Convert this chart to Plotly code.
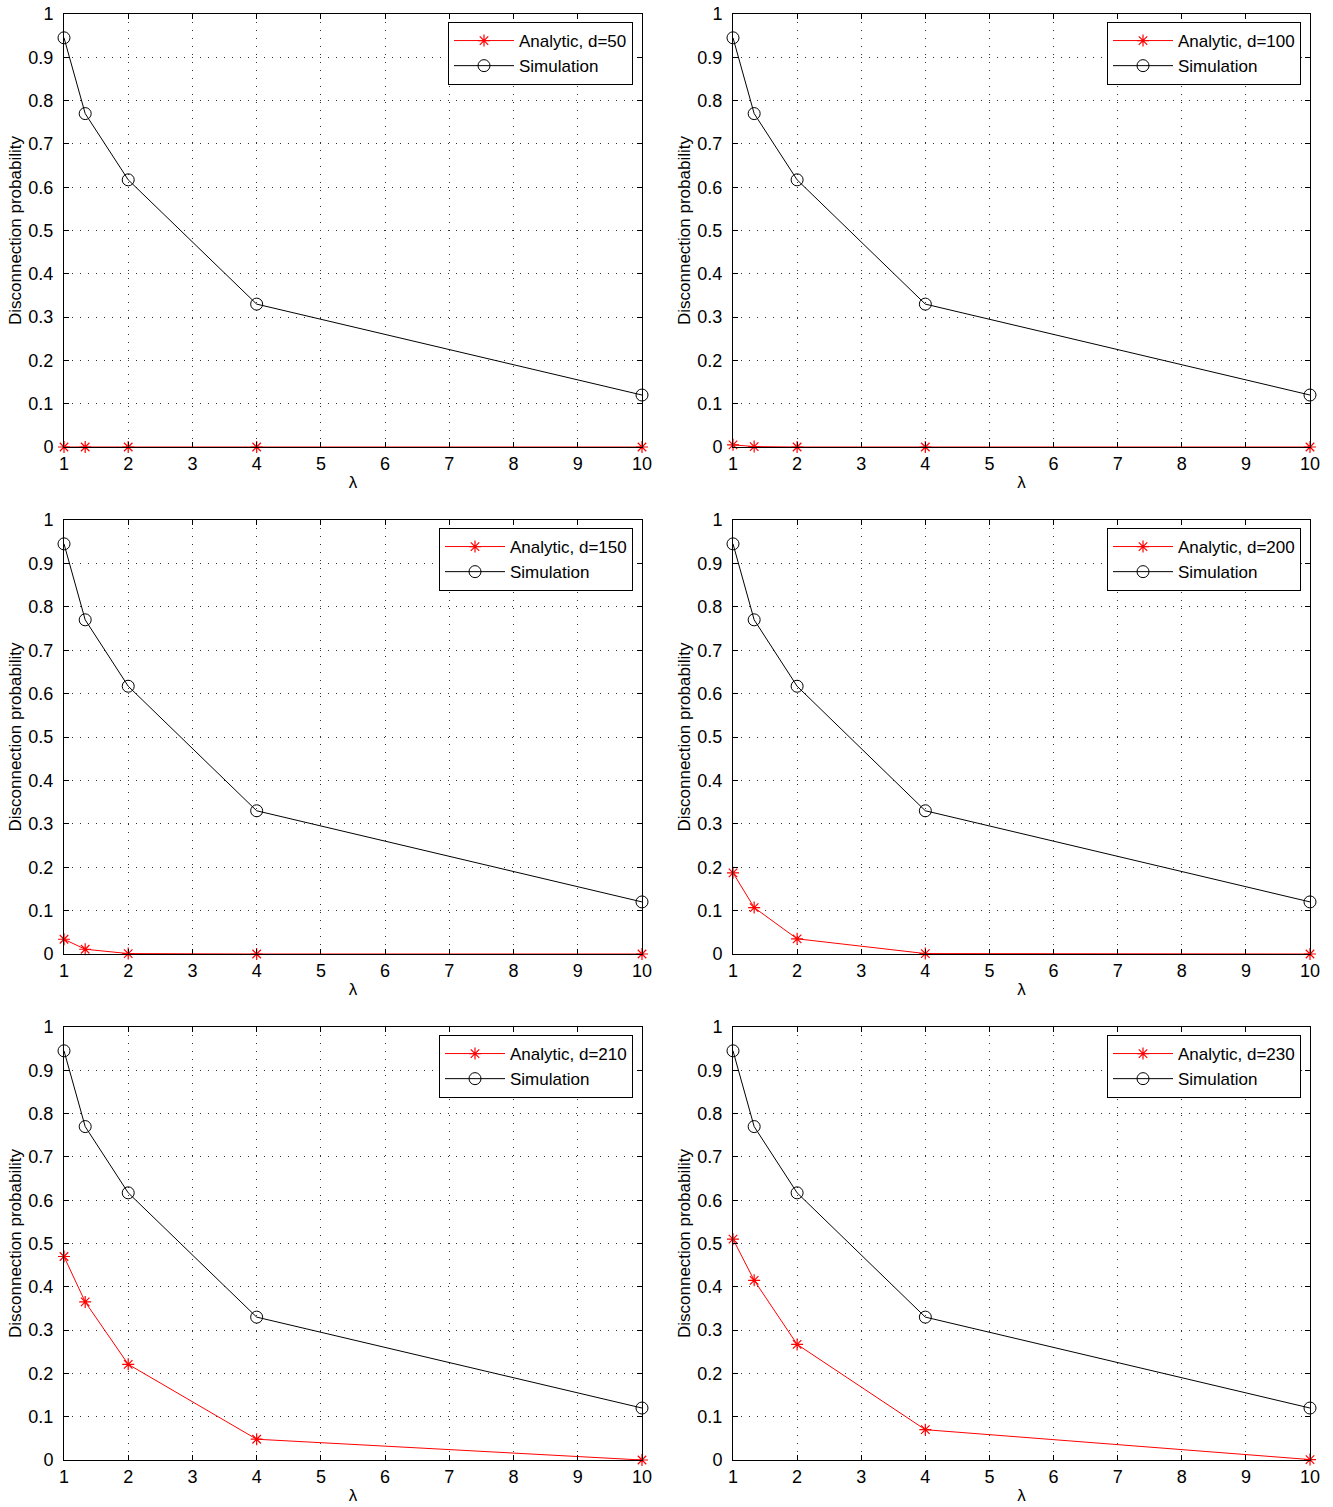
import plotly.graph_objects as go

lam = [1, 1.33, 2, 4, 10]
simulation = [0.945, 0.77, 0.617, 0.33, 0.12]
d_values = [50, 100, 150, 200, 210, 230]
analytic = {
    50: [0.0, 0.0, 0.0, 0.0, 0.0],
    100: [0.005, 0.001, 0.0, 0.0, 0.0],
    150: [0.034, 0.011, 0.001, 0.0, 0.0],
    200: [0.187, 0.107, 0.035, 0.001, 0.0],
    210: [0.47, 0.365, 0.221, 0.048, 0.0],
    230: [0.51, 0.415, 0.267, 0.07, 0.001],
}
x_ticks = list(range(1, 11))
y_ticks = [round(0.1 * i, 1) for i in range(11)]
y_labels = ["0"] + [f"{v:.1f}" for v in y_ticks[1:-1]] + ["1"]

W, H = 1333, 1507
xcols = [(64, 642), (733, 1310)]
yrows = [(14, 447), (520, 954), (1027, 1460)]

FONT = "Liberation Sans, Arial, Helvetica, sans-serif"
fig = go.Figure()
layout = {}
for i, d in enumerate(d_values):
    r, c = divmod(i, 2)
    n = i + 1
    xa = "x" if n == 1 else f"x{n}"
    ya = "y" if n == 1 else f"y{n}"
    lg = "legend" if n == 1 else f"legend{n}"
    fig.add_trace(go.Scatter(
        x=lam, y=analytic[d], mode="lines+markers", name=f"Analytic, d={d}",
        line=dict(color="red", width=1),
        marker=dict(symbol="asterisk-open", size=10, color="red", line=dict(color="red", width=1.2)),
        xaxis=xa, yaxis=ya, legend=lg, cliponaxis=False))
    fig.add_trace(go.Scatter(
        x=lam, y=simulation, mode="lines+markers", name="Simulation",
        line=dict(color="black", width=1),
        marker=dict(symbol="circle-open", size=12, color="black", line=dict(color="black", width=1)),
        xaxis=xa, yaxis=ya, legend=lg, cliponaxis=False))
    x0, x1 = xcols[c]
    y0, y1 = yrows[r]
    common = dict(showline=True, linecolor="black", linewidth=1, mirror="allticks",
                  ticks="inside", ticklen=5, tickcolor="black", automargin=False,
                  showgrid=True, gridcolor="#333333", griddash="1px,7px", gridwidth=1,
                  zeroline=False, tickfont=dict(family=FONT, size=18, color="black"))
    layout["xaxis" if n == 1 else f"xaxis{n}"] = dict(
        domain=[x0 / W, x1 / W], anchor=ya, range=[1, 10],
        tickvals=x_ticks, ticktext=[str(v) for v in x_ticks], ticklabelstandoff=0,
        title=dict(text="λ", standoff=3, font=dict(family=FONT, size=17, color="black")),
        **common)
    layout["yaxis" if n == 1 else f"yaxis{n}"] = dict(
        domain=[1 - y1 / H, 1 - y0 / H], anchor=xa, range=[0, 1],
        tickvals=y_ticks, ticktext=y_labels, ticklabelstandoff=6,
        title=dict(text="Disconnection probability", standoff=2,
                   font=dict(family=FONT, size=17, color="black")),
        **common)
    layout[lg] = dict(
        x=(x1 - 9) / W, y=1 - (y0 + 8) / H, xanchor="right", yanchor="top",
        bgcolor="white", bordercolor="black", borderwidth=1,
        font=dict(family=FONT, size=17, color="black"),
        itemwidth=60, tracegroupgap=0)

fig.update_layout(width=W, height=H, margin=dict(l=0, r=0, t=0, b=0, autoexpand=False),
                  paper_bgcolor="white", plot_bgcolor="white",
                  font=dict(family=FONT, color="black"), **layout)
fig.write_html("out.html")
